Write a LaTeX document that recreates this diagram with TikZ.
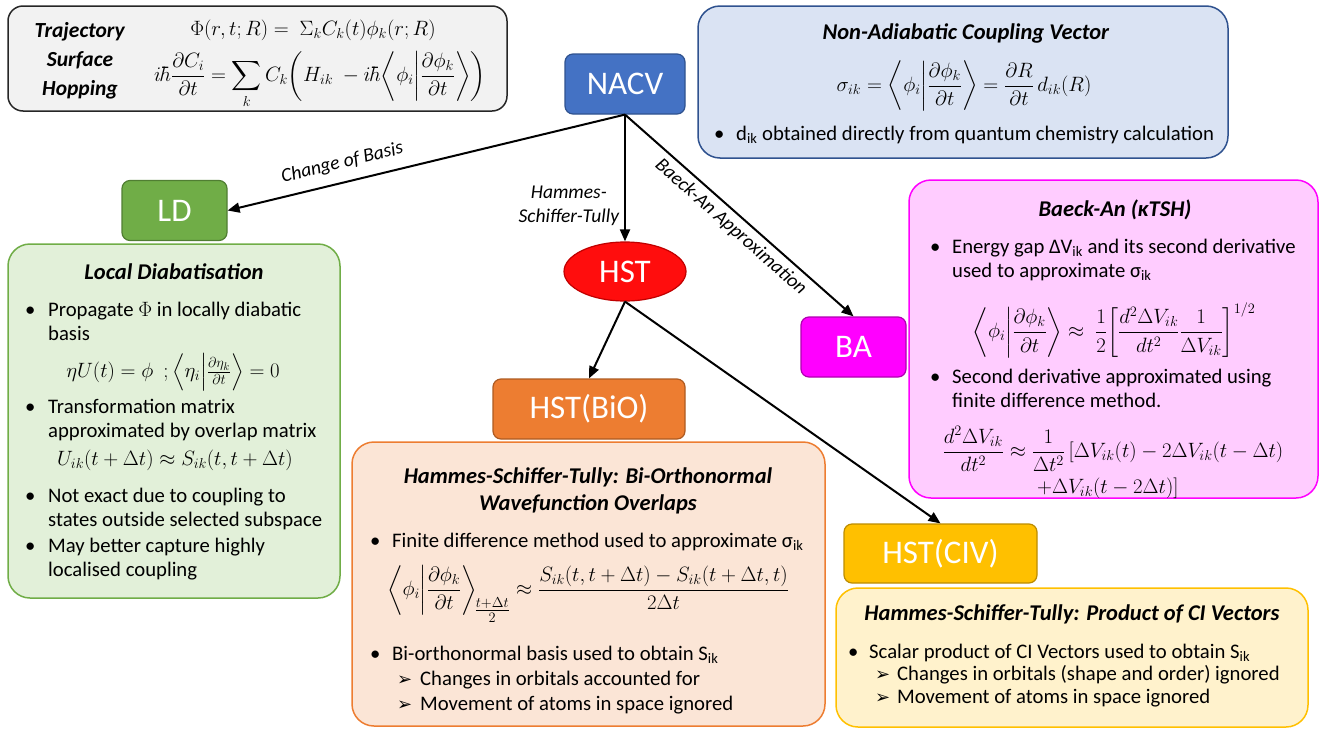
\documentclass[tikz,border=0pt]{standalone}
\usepackage{amsmath}
\usepackage{fontspec}
\setmainfont{Carlito}
\newfontfamily\dejavu{DejaVu Sans}
\usetikzlibrary{arrows.meta,shapes.geometric}
\definecolor{cblue}{HTML}{4472C4}
\definecolor{cblueD}{HTML}{2F528F}
\definecolor{cgreen}{HTML}{70AD47}
\definecolor{cgreenD}{HTML}{507E32}
\definecolor{cmag}{HTML}{FF00FF}
\definecolor{cmagD}{HTML}{B000B0}
\definecolor{cred}{HTML}{FF0D0D}
\definecolor{credD}{HTML}{C00000}
\definecolor{corange}{HTML}{ED7D31}
\definecolor{corangeD}{HTML}{AE5A21}
\definecolor{cgold}{HTML}{FFC000}
\definecolor{cgoldD}{HTML}{BC8C00}
\definecolor{fgray}{HTML}{F2F2F2}
\definecolor{fblue}{HTML}{DAE3F3}
\definecolor{fgreen}{HTML}{E2F0D9}
\definecolor{forange}{HTML}{FBE5D6}
\definecolor{fpink}{HTML}{FFCCFF}
\definecolor{fyellow}{HTML}{FFF2CC}
\newcommand{\bt}{\fontsize{20.7}{24.5}\selectfont}
\newcommand{\eqf}{\fontsize{22.5}{26}\selectfont}
\newcommand{\ttl}[1]{\textbf{\textit{#1}}}
\newcommand{\tsz}{\fontsize{22.5}{27}\selectfont}
\newcommand{\sarr}{{\dejavu\fontsize{18}{18}\selectfont ➢}}
% bra-ket with moderate delimiters
\newcommand{\bk}[2]{\biggl\langle #1\bigg|#2\biggr\rangle}
\tikzset{
  every node/.style={font=\bt},
  tagbox/.style={draw, line width=1.2pt, rounded corners=8pt, text=white, inner sep=0pt,
    font=\fontsize{33}{33}\selectfont},
  descbox/.style={draw, line width=1.5pt, rounded corners=22pt, inner sep=0pt},
  tx/.style={anchor=base west, inner sep=0pt},
  ctx/.style={anchor=base, inner sep=0pt},
  eq/.style={inner sep=0pt, font=\eqf},
  arr/.style={draw, line width=2pt, -{Triangle[length=12pt,width=10pt]}},
  lbl/.style={font=\fontsize{19.5}{24}\selectfont\itshape, inner sep=0pt},
}
\begin{document}
\begin{tikzpicture}[x=1pt,y=-1pt]
\useasboundingbox (0,0) rectangle (1320,734);

% ---------- description boxes ----------
\node[descbox, rounded corners=15pt, fill=fgray, draw=black!85, minimum width=499pt, minimum height=105pt] (tsh) at (257.5,58.5) {};
\node[descbox, fill=fblue, draw=cblueD, minimum width=530pt, minimum height=152pt] (nac) at (963,82) {};
\node[descbox, fill=fgreen, draw=cgreen, minimum width=332pt, minimum height=354pt] (ldd) at (174,421) {};
\node[descbox, fill=forange, draw=corange, minimum width=473pt, minimum height=284pt] (biod) at (588.5,584) {};
\node[descbox, fill=fpink, draw=cmag, minimum width=409pt, minimum height=318pt] (bad) at (1113.5,339) {};
\node[descbox, fill=fyellow, draw=cgold, minimum width=472pt, minimum height=139pt] (civd) at (1072,657.5) {};

% ---------- TSH ----------
\node[ctx] (tshT) at (80,37) {\parbox[t]{96pt}{\centering\fontsize{21.5}{29}\selectfont\ttl{Trajectory}\\\ttl{Surface}\\\ttl{Hopping}}};
\node[eq] (tshE1) at (313,30) {$\Phi(r,t;R) =\ \Sigma_k C_k(t)\phi_k(r;R)$};
\node[eq] (tshE2) at (320,80) {$\displaystyle i\hbar\frac{\partial C_i}{\partial t} = \sum_k C_k\biggl(H_{ik}\ - i\hbar\bk{\phi_i}{\frac{\partial\phi_k}{\partial t}}\biggr)$};

% ---------- NAC ----------
\node[ctx] (nacT) at (966,39) {\tsz\ttl{Non-Adiabatic Coupling Vector}};
\node[eq] (nacE) at (964,86) {$\displaystyle \sigma_{ik} = \bk{\phi_i}{\frac{\partial\phi_k}{\partial t}} = \frac{\partial R}{\partial t}\,d_{ik}(R)$};
\node[tx] (nacB) at (714,140) {•};
\node[tx] (nac1) at (736,140) {d\textsubscript{ik} obtained directly from quantum chemistry calculation};

% ---------- LD description ----------
\node[ctx] (ldT) at (174,279) {\tsz\ttl{Local Diabatisation}};
\node[tx] at (25,316) {•};
\node[tx] (ld1) at (48,316) {\parbox[t]{290pt}{\raggedright Propagate $\Phi$ in locally diabatic\\basis}};
\node[eq, font=\fontsize{22}{26}\selectfont] (ldE1) at (173,372) {$\eta U(t) = \phi\ \ ;\Bigl\langle\eta_i\Big|\tfrac{\partial\eta_k}{\partial t}\Bigr\rangle = 0$};
\node[tx] at (25,413) {•};
\node[tx] (ld2) at (48,413) {\parbox[t]{290pt}{\raggedright Transformation matrix\\approximated by overlap matrix}};
\node[eq, font=\fontsize{21.7}{26}\selectfont] (ldE2) at (175,460) {$U_{ik}(t+\Delta t)\approx S_{ik}(t,t+\Delta t)$};
\node[tx] at (25,502) {•};
\node[tx] (ld3) at (48,502) {\parbox[t]{295pt}{\raggedright Not exact due to coupling to\\states outside selected subspace}};
\node[tx] at (25,552) {•};
\node[tx] (ld4) at (48,552) {\parbox[t]{290pt}{\raggedright May better capture highly\\localised coupling}};

% ---------- BiO description ----------
\node[ctx] (bioT) at (588,483) {\parbox[t]{460pt}{\centering\fontsize{22.5}{27}\selectfont\ttl{Hammes-Schiffer-Tully: Bi-Orthonormal}\\\ttl{Wavefunction Overlaps}}};
\node[tx] at (370,547) {•};
\node[tx] (bio1) at (392,547) {Finite difference method used to approximate σ\textsubscript{ik}};
\node[eq] (bioE) at (588,594) {$\displaystyle \bk{\phi_i}{\frac{\partial\phi_k}{\partial t}}_{\!\genfrac{}{}{}{1}{t+\Delta t}{2}} \approx \frac{S_{ik}(t,t+\Delta t) - S_{ik}(t+\Delta t,t)}{2\Delta t}$};
\node[tx] at (370,660) {•};
\node[tx] (bio2) at (392,660) {Bi-orthonormal basis used to obtain S\textsubscript{ik}};
\node[tx] at (397,685) {\sarr};
\node[tx] (bio3) at (420,685) {Changes in orbitals accounted for};
\node[tx] at (397,710) {\sarr};
\node[tx] (bio4) at (420,710) {Movement of atoms in space ignored};

% ---------- BA description ----------
\node[ctx] (baT) at (1115,216) {\tsz\ttl{Baeck-An (κTSH)}};
\node[tx] at (930,253) {•};
\node[tx] (ba1) at (952,253) {\parbox[t]{360pt}{\raggedright Energy gap ΔV\textsubscript{ik} and its second derivative\\used to approximate σ\textsubscript{ik}}};
\node[eq] (baE1) at (1114,330) {$\displaystyle \bk{\phi_i}{\frac{\partial\phi_k}{\partial t}} \approx\ \frac12\biggl[\frac{d^2\Delta V_{ik}}{dt^2}\frac{1}{\Delta V_{ik}}\biggr]^{1/2}$};
\node[tx] at (930,383) {•};
\node[tx] (ba2) at (952,383) {\parbox[t]{360pt}{\raggedright Second derivative approximated using\\finite difference method.}};
\node[eq] (baE2) at (1113,449) {$\displaystyle \frac{d^2\Delta V_{ik}}{dt^2}\approx\frac{1}{\Delta t^2}\,[\Delta V_{ik}(t) - 2\Delta V_{ik}(t-\Delta t)$};
\node[eq, anchor=base west] (baE3) at (1037,493) {$+\Delta V_{ik}(t-2\Delta t)]$};

% ---------- CIV description ----------
\node[ctx] (civT) at (1072,620) {\tsz\ttl{Hammes-Schiffer-Tully: Product of CI Vectors}};
\node[tx] at (848,658) {•};
\node[tx] (civ1) at (869,658) {Scalar product of CI Vectors used to obtain S\textsubscript{ik}};
\node[tx] at (875,680) {\sarr};
\node[tx] (civ2) at (897,680) {Changes in orbitals (shape and order) ignored};
\node[tx] at (875,703) {\sarr};
\node[tx] (civ3) at (897,703) {Movement of atoms in space ignored};

% ---------- tag nodes ----------
\node[tagbox, fill=cblue, draw=cblueD, minimum width=120pt, minimum height=60pt] (nacv) at (625,84) {NACV};
\node[tagbox, fill=cgreen, draw=cgreenD, minimum width=105pt, minimum height=60pt] (ld) at (174.5,210.5) {LD};
\node[tagbox, fill=cmag, draw=cmagD, minimum width=105pt, minimum height=60pt] (ba) at (853.5,347) {BA};
\node[tagbox, ellipse, rounded corners=0pt, fill=cred, draw=credD, minimum width=122pt, minimum height=59pt] (hst) at (625,271.5) {HST};
\node[tagbox, fill=corange, draw=corangeD, minimum width=192pt, minimum height=60pt] (bio) at (589,409) {HST(BiO)};
\node[tagbox, fill=cgold, draw=cgoldD, minimum width=193pt, minimum height=59pt] (civ) at (940.5,553.5) {HST(CIV)};

% ---------- connectors ----------
\draw[arr] (nacv.south) -- (ld.east) node[lbl, pos=0.7, sloped, above=10pt] {Change of Basis};
\draw[arr] (nacv.south) -- (hst.north) node[lbl, pos=0.72, left=5pt, align=center] {Hammes-\\Schiffer-Tully};
\draw[arr] (nacv.south) -- (ba.north) node[lbl, pos=0.505, sloped, below=5pt] {Baeck-An Approximation};
\draw[arr] (hst.south) -- (bio.north);
\draw[arr] (hst.south) -- (civ.north);
\end{tikzpicture}
\end{document}
